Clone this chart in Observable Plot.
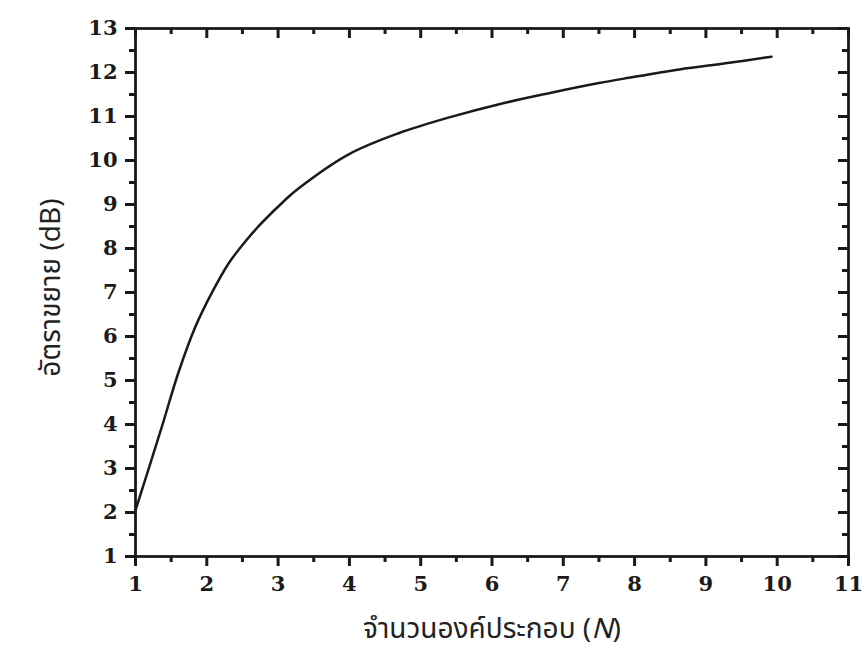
<!DOCTYPE html>
<html>
<head>
<meta charset="utf-8">
<script src="https://cdn.jsdelivr.net/npm/d3@7"></script>
<script src="https://cdn.jsdelivr.net/npm/@observablehq/plot@0.6"></script>
<style>
  html, body { margin: 0; padding: 0; background: #fff; }
  #chart svg { display: block; }
</style>
</head>
<body>
<div id="chart"></div>
<script>
// Curve data: number of elements N vs gain (dB)
const N    = [1.0, 1.37, 1.60, 1.84, 2.07, 2.31, 2.54, 2.77, 3.11, 3.29, 3.99, 4.69, 5.40, 6.10, 6.80, 7.50, 7.92, 8.63, 9.33, 9.92];
const gain = [2.05, 3.95, 5.17, 6.22, 6.99, 7.67, 8.16, 8.58, 9.12, 9.37, 10.14, 10.62, 10.98, 11.28, 11.53, 11.76, 11.88, 12.07, 12.22, 12.36];

const xMajor = [1, 2, 3, 4, 5, 6, 7, 8, 9, 10, 11];
const xMinor = [1.5, 2.5, 3.5, 4.5, 5.5, 6.5, 7.5, 8.5, 9.5, 10.5];
const yMajor = [1, 2, 3, 4, 5, 6, 7, 8, 9, 10, 11, 12, 13];
const yMinor = [1.5, 2.5, 3.5, 4.5, 5.5, 6.5, 7.5, 8.5, 9.5, 10.5, 11.5, 12.5];

const xTitle = "จำนวนองค์ประกอบ (N)";
const yTitle = "อัตราขยาย (dB)";

const data = N.map((n, i) => ({N: n, gain: gain[i]}));

const ink = "#1a1a1a";
const tickFont = {fontFamily: "DejaVu Serif", fontWeight: "bold", fontSize: 21, fill: ink};
const thaiFont = "Noto Sans Thai, Loma, Garuda, Tahoma, sans-serif";
const xMin = 1, xMax = 11, yMin = 1, yMax = 13;
const tw = 3;

// short ticks: zero-length rules at an axis edge, extended by a negative inset (pixels)
const xTicks = (values, edge, len) =>
  Plot.ruleX(values, {x: d => d, y1: edge, y2: edge, insetBottom: -len, stroke: ink, strokeWidth: tw});
const yTicks = (values, edge, len) =>
  Plot.ruleY(values, {y: d => d, x1: edge, x2: edge, insetLeft: -len, stroke: ink, strokeWidth: tw});

const plot = Plot.plot({
  width: 864,
  height: 653,
  marginLeft: 135,
  marginRight: 16,
  marginTop: 28,
  marginBottom: 97,
  x: {domain: [xMin, xMax]},
  y: {domain: [yMin, yMax]},
  style: {background: "#fff", color: ink},
  marks: [
    Plot.line(data, {x: "N", y: "gain", curve: "catmull-rom", stroke: ink, strokeWidth: 2.5}),
    // tick labels
    Plot.axisX(xMajor, {anchor: "bottom", tickSize: 0, tickPadding: 20, label: null, tickFormat: d => String(d), ...tickFont}),
    Plot.axisY(yMajor, {anchor: "left", tickSize: 0, tickPadding: 18, label: null, tickFormat: d => String(d), ...tickFont}),
    // bottom: outward (down); top: inward (down)
    xTicks(xMajor, yMin, 10), xTicks(xMinor, yMin, 6),
    xTicks(xMajor, yMax, 10), xTicks(xMinor, yMax, 6),
    // left: outward (left); right: inward (left)
    yTicks(yMajor, xMin, 10), yTicks(yMinor, xMin, 6),
    yTicks(yMajor, xMax, 10), yTicks(yMinor, xMax, 6),
    Plot.frame({stroke: ink, strokeWidth: 2.8}),
    Plot.text([xTitle], {frameAnchor: "bottom", dy: 81, text: d => d, fontSize: 28, fontFamily: thaiFont, fill: "#222"}),
    Plot.text([yTitle], {frameAnchor: "left", dx: -84, dy: -5, rotate: -90, textAnchor: "middle", lineAnchor: "middle", text: d => d, fontSize: 28, fontFamily: thaiFont, fill: "#222"})
  ]
});

document.getElementById("chart").appendChild(plot);

// italicise the N in the x title
d3.select(plot).selectAll("text").each(function() {
  if (this.textContent === xTitle) {
    const el = d3.select(this);
    el.text(null);
    el.append("tspan").text("จำนวนองค์ประกอบ (");
    el.append("tspan").attr("font-style", "italic").text("N");
    el.append("tspan").text(")");
  }
});
</script>
</body>
</html>
